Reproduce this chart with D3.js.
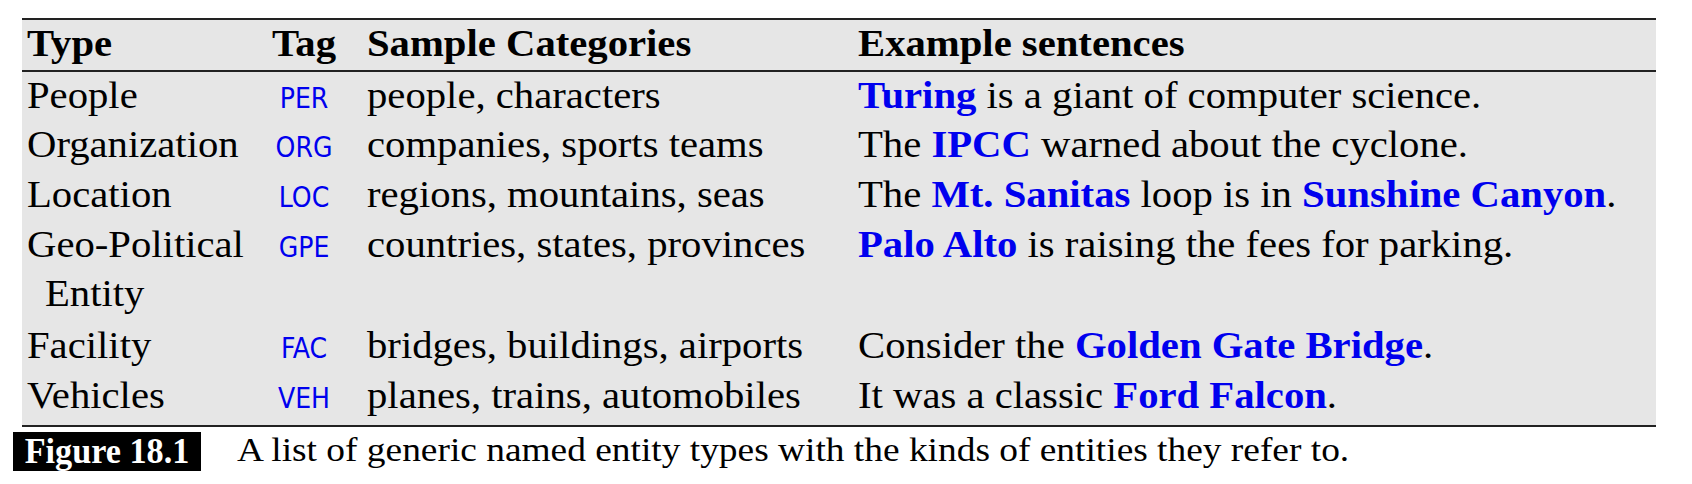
<!DOCTYPE html>
<html>
<head>
<script src="https://cdn.jsdelivr.net/npm/d3@7"></script>
<style>
body { margin: 0; background: #fff; }
text { font-family: "Liberation Serif", "Times New Roman", serif; }
</style>
</head>
<body>
<script>
var headers = ["Type", "Tag", "Sample Categories", "Example sentences"];
var types = [["People"], ["Organization"], ["Location"], ["Geo-Political", "Entity"], ["Facility"], ["Vehicles"]];
var tags = ["PER", "ORG", "LOC", "GPE", "FAC", "VEH"];
var categories = ["people, characters", "companies, sports teams", "regions, mountains, seas",
    "countries, states, provinces", "bridges, buildings, airports", "planes, trains, automobiles"];
// each sentence: [text, isEntity]
var sentences = [
    [["Turing", 1], [" is a giant of computer science.", 0]],
    [["The ", 0], ["IPCC", 1], [" warned about the cyclone.", 0]],
    [["The ", 0], ["Mt. Sanitas", 1], [" loop is in ", 0], ["Sunshine Canyon", 1], [".", 0]],
    [["Palo Alto", 1], [" is raising the fees for parking.", 0]],
    [["Consider the ", 0], ["Golden Gate Bridge", 1], [".", 0]],
    [["It was a classic ", 0], ["Ford Falcon", 1], [".", 0]]
];
var figLabel = "Figure 18.1";
var caption = "A list of generic named entity types with the kinds of entities they refer to.";

var W = 1692, H = 484, fs = 37, sx = 1.1, blue = "#0000ee";
var colX = [27, 304, 367, 858];
var lines = [108, 157, 207, 257, 306, 358, 408]; // baselines
var rowLine = [0, 1, 2, 3, 5, 6]; // first line index per row

var svg = d3.select("body").append("svg").attr("width", W).attr("height", H);

// stretched text, like the condensed-but-wide look of the source
function txt(x, y, size, s) {
    return svg.append("text").attr("transform", "translate(" + x + "," + y + ") scale(" + s + ",1)")
        .attr("font-size", size);
}

svg.append("rect").attr("x", 22).attr("y", 19).attr("width", 1634).attr("height", 407).attr("fill", "#e6e6e6");
[19, 71, 426].forEach(function(y) {
    svg.append("line").attr("x1", 22).attr("x2", 1656).attr("y1", y).attr("y2", y)
        .attr("stroke", "#222").attr("stroke-width", 2.2);
});

headers.forEach(function(h, i) {
    txt(colX[i], 56, fs, sx).attr("font-weight", "bold")
        .attr("text-anchor", i == 1 ? "middle" : "start").text(h);
});

types.forEach(function(t, r) {
    t.forEach(function(s, k) {
        txt(colX[0] + (k ? 18 : 0), lines[rowLine[r] + k], fs, sx).text(s);
    });
    txt(colX[1], lines[rowLine[r]], 28, 1).attr("text-anchor", "middle")
        .style("font-family", "'DejaVu Sans Condensed', 'DejaVu Sans', sans-serif")
        .attr("fill", blue).text(tags[r]);
    txt(colX[2], lines[rowLine[r]], fs, sx).text(categories[r]);
    var t2 = txt(colX[3], lines[rowLine[r]], fs, sx).attr("xml:space", "preserve");
    t2.selectAll("tspan").data(sentences[r]).join("tspan")
        .attr("fill", function(d) { return d[1] ? blue : "#000"; })
        .attr("font-weight", function(d) { return d[1] ? "bold" : "normal"; })
        .text(function(d) { return d[0]; });
});

svg.append("rect").attr("x", 13).attr("y", 432).attr("width", 188).attr("height", 39).attr("fill", "#000");
txt(107, 463, 36, 0.95).attr("text-anchor", "middle").attr("font-weight", "bold")
    .attr("fill", "#fff").text(figLabel);
txt(237, 461, 34, 1.1).text(caption);
</script>
</body>
</html>
